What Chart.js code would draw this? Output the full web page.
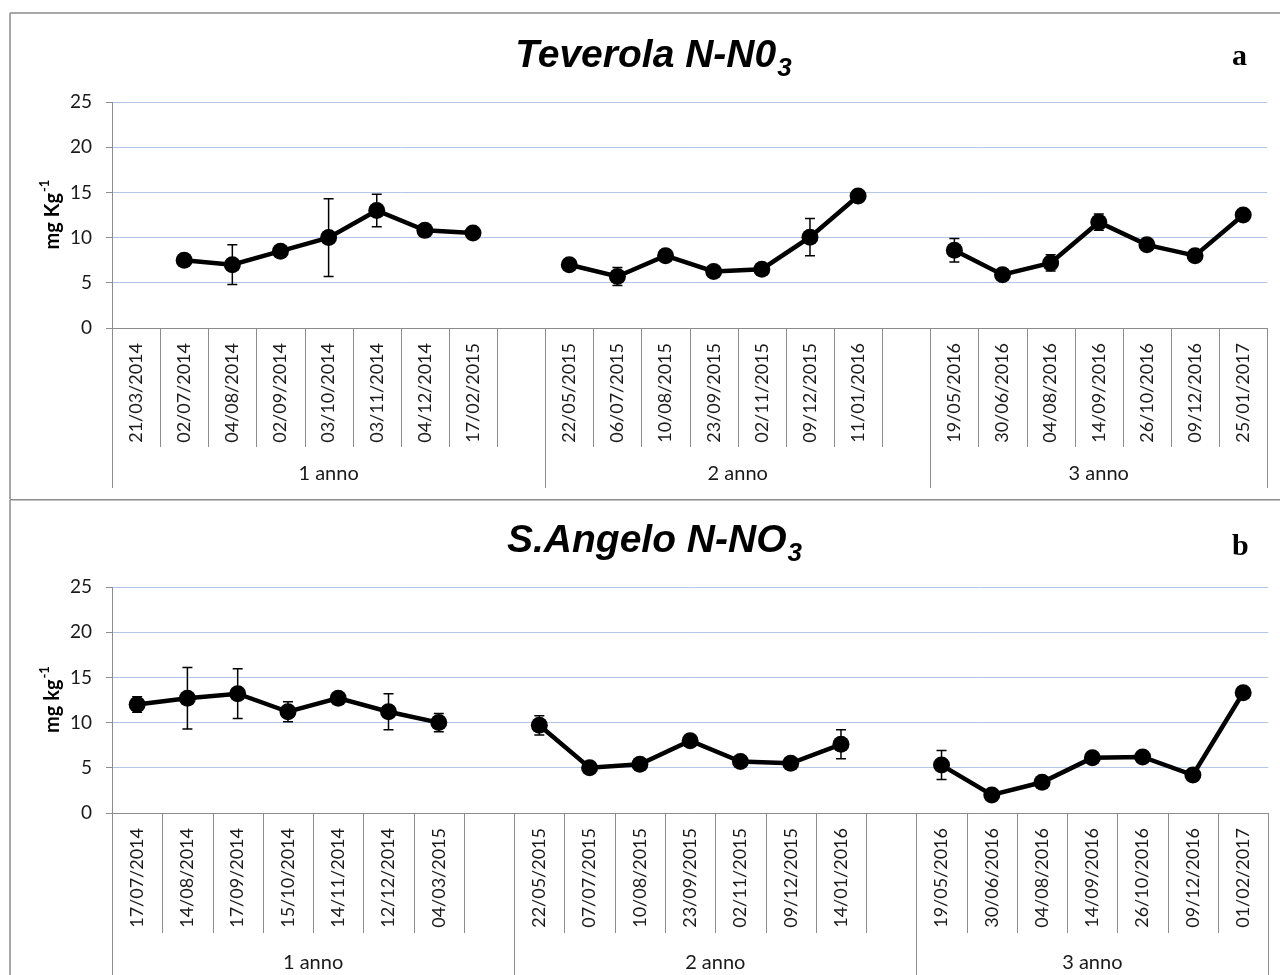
<!DOCTYPE html>
<html>
<head>
<meta charset="utf-8">
<script src="https://cdn.jsdelivr.net/npm/chart.js@4.4.1/dist/chart.umd.min.js"></script>
<style>
  html, body { margin: 0; padding: 0; background: #fff; }
  body { width: 1280px; height: 975px; position: relative; overflow: hidden; }
  canvas { position: absolute; left: 0; }
</style>
</head>
<body>
<canvas id="chartA" width="1280" height="499" style="top:0"></canvas>
<canvas id="chartB" width="1280" height="476" style="top:499px"></canvas>
<script>
// --- Teverola (a)
const datesA = ['21/03/2014', '02/07/2014', '04/08/2014', '02/09/2014', '03/10/2014', '03/11/2014', '04/12/2014', '17/02/2015', '',
  '22/05/2015', '06/07/2015', '10/08/2015', '23/09/2015', '02/11/2015', '09/12/2015', '11/01/2016', '',
  '19/05/2016', '30/06/2016', '04/08/2016', '14/09/2016', '26/10/2016', '09/12/2016', '25/01/2017'];
const valuesA = [null, 7.5, 7.0, 8.5, 10.0, 13.0, 10.8, 10.5, null,
  7.0, 5.7, 8.0, 6.25, 6.5, 10.05, 14.6, null,
  8.6, 5.9, 7.2, 11.7, 9.2, 8.0, 12.5];
const errorsA = [null, null, 2.2, null, 4.3, 1.8, null, null, null,
  null, 1.0, null, null, null, 2.05, null, null,
  1.3, null, 0.9, 0.9, null, null, null];
const groupsA = [9, 8, 7];

// --- S.Angelo (b)
const datesB = ['17/07/2014', '14/08/2014', '17/09/2014', '15/10/2014', '14/11/2014', '12/12/2014', '04/03/2015', '',
  '22/05/2015', '07/07/2015', '10/08/2015', '23/09/2015', '02/11/2015', '09/12/2015', '14/01/2016', '',
  '19/05/2016', '30/06/2016', '04/08/2016', '14/09/2016', '26/10/2016', '09/12/2016', '01/02/2017'];
const valuesB = [12.0, 12.7, 13.2, 11.2, 12.7, 11.2, 10.0, null,
  9.7, 5.0, 5.4, 8.0, 5.7, 5.5, 7.6, null,
  5.3, 2.0, 3.4, 6.1, 6.2, 4.2, 13.3];
const errorsB = [0.85, 3.4, 2.75, 1.1, null, 2.0, 1.0, null,
  1.07, null, null, null, null, null, 1.6, null,
  1.6, null, null, 0.6, null, null, null];
const groupsB = [8, 8, 7];

const groupNames = ['1 anno', '2 anno', '3 anno'];
const yMin = 0, yMax = 25, yStep = 5;

const GREY = '#8c8c8c';
const TXT = '#1a1a1a';

// error bars from the y scale
const errorBars = {
  id: 'errorBars',
  afterDatasetsDraw(chart, args, opts) {
    const ctx = chart.ctx, y = chart.scales.y;
    const meta = chart.getDatasetMeta(0);
    const vals = chart.data.datasets[0].data;
    ctx.save();
    ctx.strokeStyle = '#000';
    ctx.lineWidth = 1.5;
    opts.errors.forEach((e, i) => {
      if (e == null || vals[i] == null) return;
      const px = meta.data[i].x;
      const t = y.getPixelForValue(vals[i] + e), b = y.getPixelForValue(vals[i] - e);
      ctx.beginPath();
      ctx.moveTo(px, t); ctx.lineTo(px, b);
      ctx.moveTo(px - 5, t); ctx.lineTo(px + 5, t);
      ctx.moveTo(px - 5, b); ctx.lineTo(px + 5, b);
      ctx.stroke();
    });
    ctx.restore();
  }
};

// frame, grouped category axis, titles
const frame = {
  id: 'frame',
  afterDraw(chart, args, o) {
    const ctx = chart.ctx, xs = chart.scales.x, a = chart.chartArea;
    const n = chart.data.labels.length;
    const half = (xs.getPixelForValue(1) - xs.getPixelForValue(0)) / 2;
    ctx.save();
    ctx.strokeStyle = GREY;
    ctx.lineWidth = 1.5;
    // outer box (top, left)
    ctx.beginPath();
    ctx.moveTo(10, o.boxTop); ctx.lineTo(1280, o.boxTop);
    ctx.moveTo(10, o.boxTop); ctx.lineTo(10, chart.height);
    ctx.stroke();

    ctx.lineWidth = 1;
    ctx.beginPath();
    ctx.moveTo(a.left, a.bottom + 0.5); ctx.lineTo(a.right, a.bottom + 0.5);
    const bounds = [0];
    o.groups.reduce((s, g) => { bounds.push(s + g); return s + g; }, 0);
    for (let i = 0; i <= n; i++) {
      const px = Math.round((i < n ? xs.getPixelForValue(i) - half : xs.getPixelForValue(n - 1) + half)) + 0.5;
      ctx.moveTo(px, a.bottom);
      ctx.lineTo(px, bounds.includes(i) ? o.groupBottom : o.tickBottom);
    }
    ctx.stroke();

    ctx.fillStyle = TXT;
    ctx.font = '20px Lato';
    ctx.textAlign = 'center';
    ctx.textBaseline = 'middle';
    let s = 0;
    o.groups.forEach((g, k) => {
      const cx = (xs.getPixelForValue(s) + xs.getPixelForValue(s + g - 1)) / 2;
      ctx.fillText(groupNames[k], cx, o.groupY);
      s += g;
    });

    // main title with subscript
    ctx.fillStyle = '#000';
    ctx.textAlign = 'left';
    ctx.textBaseline = 'alphabetic';
    const fMain = 'bold italic 39px "Liberation Sans"', fSub = 'bold italic 26px "Liberation Sans"';
    ctx.font = fMain;
    const w1 = ctx.measureText(o.title).width;
    ctx.font = fSub;
    const w2 = ctx.measureText('3').width;
    const tx = o.titleX - (w1 + w2) / 2;
    ctx.font = fMain;
    ctx.fillText(o.title, tx, o.titleY);
    ctx.font = fSub;
    ctx.fillText('3', tx + w1 + 1, o.titleY + 9);

    // panel letter
    ctx.font = 'bold 30px "Liberation Serif"';
    ctx.fillText(o.letter, 1232, o.letterY);

    // y axis title
    ctx.translate(52, (a.top + a.bottom) / 2);
    ctx.rotate(-Math.PI / 2);
    const fy = 'bold 20px Lato', fs = 'bold 13px Lato';
    ctx.font = fy;
    const u1 = ctx.measureText(o.yTitle).width;
    ctx.font = fs;
    const u2 = ctx.measureText('-1').width;
    ctx.font = fy;
    ctx.fillText(o.yTitle, -(u1 + u2) / 2, 7);
    ctx.font = fs;
    ctx.fillText('-1', -(u1 + u2) / 2 + u1 + 1, -3);
    ctx.restore();
  }
};

function makeChart(id, labels, values, errors, cfg) {
  return new Chart(document.getElementById(id).getContext('2d'), {
    type: 'line',
    data: {
      labels: labels,
      datasets: [{
        data: values,
        borderColor: '#000',
        backgroundColor: '#000',
        borderWidth: 4.5,
        pointRadius: 8.5,
        pointHoverRadius: 8.5,
        pointBorderWidth: 0,
        pointBackgroundColor: '#000',
        spanGaps: false,
        tension: 0,
      }],
    },
    options: {
      responsive: false,
      animation: false,
      layout: { padding: { top: cfg.top, right: 10, left: 0, bottom: 0 } },
      plugins: {
        legend: { display: false },
        tooltip: { enabled: false },
        errorBars: { errors: errors },
        frame: cfg,
      },
      scales: {
        x: {
          type: 'category',
          offset: true,
          grid: { display: false, drawTicks: false },
          border: { display: false },
          ticks: {
            autoSkip: false, minRotation: 90, maxRotation: 90, padding: 15,
            color: TXT, font: { family: 'Lato', size: 18 },
          },
          afterFit(s) { s.height = cfg.xHeight; },
        },
        y: {
          min: yMin,
          max: yMax,
          ticks: { stepSize: yStep, padding: 14, color: TXT, font: { family: 'Lato', size: 19 } },
          grid: { color: '#b4c6e7', lineWidth: 1, tickLength: 6, tickColor: GREY },
          border: { color: GREY, width: 1 },
          afterFit(s) { s.width = 112; },
        },
      },
    },
    plugins: [errorBars, frame],
  });
}

makeChart('chartA', datesA, valuesA, errorsA, {
  top: 102, xHeight: 171, boxTop: 13, groups: groupsA,
  tickBottom: 447, groupBottom: 488, groupY: 474,
  title: 'Teverola N-N0', titleX: 653, titleY: 67,
  letter: 'a', letterY: 65, yTitle: 'mg Kg',
});

makeChart('chartB', datesB, valuesB, errorsB, {
  top: 88, xHeight: 162, boxTop: 0.75, groups: groupsB,
  tickBottom: 434, groupBottom: 476, groupY: 464,
  title: 'S.Angelo N-NO', titleX: 654, titleY: 53,
  letter: 'b', letterY: 56, yTitle: 'mg kg',
});
</script>
</body>
</html>
